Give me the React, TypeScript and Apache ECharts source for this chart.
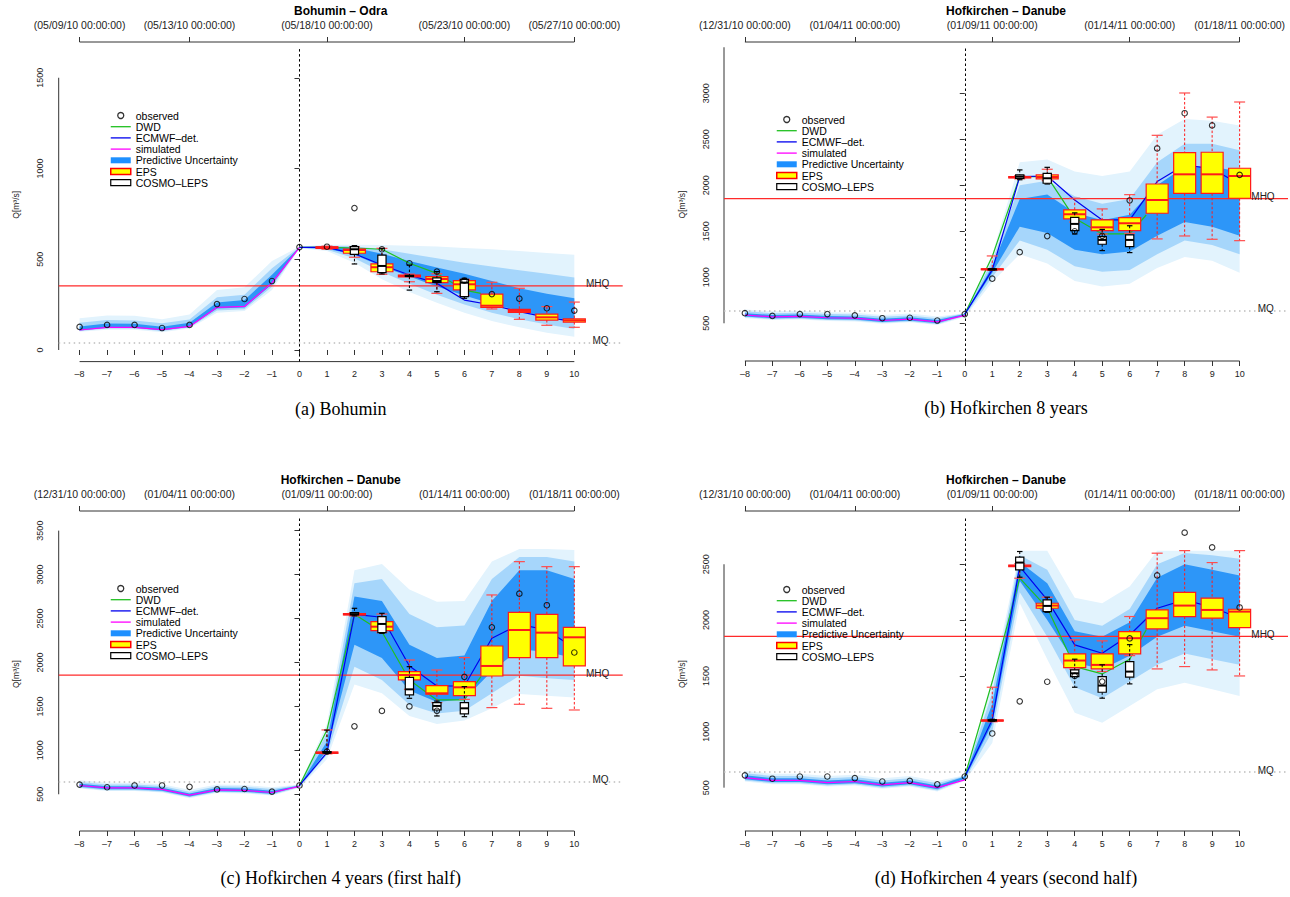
import { useEffect, useRef } from 'react';
import * as echarts from 'echarts';

// ---------------- shared axis data ----------------
const X_MIN = -8.76;
const X_MAX = 11.76;
const X_TICKS = [-8, -7, -6, -5, -4, -3, -2, -1, 0, 1, 2, 3, 4, 5, 6, 7, 8, 9, 10];
const DAYS_ALL = X_TICKS;
const DAYS_PRE = [-8, -7, -6, -5, -4, -3, -2, -1, 0];
const DAYS_FC = [0, 1, 2, 3, 4, 5, 6, 7, 8, 9, 10];
const DAYS_DWD = [0, 1, 2, 3, 4, 5, 6, 6.6];
const DAYS_BOX = [1, 2, 3, 4, 5, 6, 7, 8, 9, 10];
const TOP_TICKS = [-8, -4, 1, 6, 10];
const TOP_LABELS_BOHUMIN = ['(05/09/10 00:00:00)', '(05/13/10 00:00:00)', '(05/18/10 00:00:00)', '(05/23/10 00:00:00)', '(05/27/10 00:00:00)'];
const TOP_LABELS_HOFKIRCHEN = ['(12/31/10 00:00:00)', '(01/04/11 00:00:00)', '(01/09/11 00:00:00)', '(01/14/11 00:00:00)', '(01/18/11 00:00:00)'];
const Y_TICKS_A = [0, 500, 1000, 1500];
const Y_TICKS_BC = [500, 1000, 1500, 2000, 2500, 3000, 3500];
const Y_TICKS_D = [500, 1000, 1500, 2000, 2500];
const LEGEND_NAMES = ['observed', 'DWD', 'ECMWF–det.', 'simulated', 'Predictive Uncertainty', 'EPS', 'COSMO–LEPS'];

// ---------------- panel (a) Bohumin ----------------
const OBS_A = [127, 138, 138, 121, 138, 253, 281, 380, 567, 569, 782, 555, 478, 432, 382, 308, 283, 230, 217];
const SIM_A = [110, 125, 125, 112, 130, 235, 240, 370, 565];
const DWD_A = [565, 565, 562, 555, 478, 422, 330, 312];
const ECMWF_A = [565, 565, 530, 468, 413, 367, 275, 248, 211, 180, 156];
const EPS_A = [
  [555, 560, 565, 568, 572], [511, 533, 551, 556, 568], [417, 431, 456, 474, 560], [376, 403, 408, 412, 418],
  [312, 371, 391, 404, 420], [300, 331, 362, 382, 389], [226, 235, 244, 308, 373], [169, 207, 215, 224, 340],
  [136, 165, 180, 198, 239], [125, 154, 163, 171, 264],
];
const COSMO_DAYS_A = [2, 3, 4, 5, 6];
const COSMO_A = [[474, 527, 555, 569, 575], [419, 426, 463, 523, 560], [330, 405, 408, 411, 468], [321, 372, 380, 397, 432], [285, 294, 371, 389, 395]];
const PU_OUTER_LO_A = [100, 112, 112, 98, 118, 205, 215, 330, 560, 545, 480, 390, 320, 260, 205, 160, 125, 95, 73];
const PU_OUTER_HI_A = [175, 190, 188, 170, 195, 330, 345, 490, 570, 580, 580, 578, 575, 570, 562, 555, 545, 535, 525];
const PU_MID_LO_A = [104, 118, 118, 104, 124, 218, 225, 348, 562, 552, 505, 430, 365, 305, 250, 205, 170, 140, 115];
const PU_MID_HI_A = [150, 165, 163, 148, 168, 290, 305, 450, 568, 575, 572, 555, 530, 505, 480, 460, 440, 420, 400];
const PU_INNER_LO_A = [108, 122, 122, 108, 128, 228, 234, 362, 564, 558, 525, 460, 405, 350, 300, 255, 215, 185, 160];
const PU_INNER_HI_A = [130, 146, 144, 128, 150, 262, 275, 415, 566, 570, 563, 530, 490, 455, 420, 380, 340, 310, 285];
const MHQ_A = 353;
const MQ_A = 40;

// ---------------- Hofkirchen (shared observations) ----------------
const OBS_H = [610, 580, 600, 600, 585, 555, 560, 530, 600, 985, 1273, 1448, 1500, 1450, 1836, 2400, 2783, 2651, 2113];
const MHQ_H = 1855;
const MQ_H = 640;

// ---------------- panel (b) Hofkirchen 8 years ----------------
const SIM_B = [590, 570, 575, 560, 555, 530, 545, 515, 585];
const DWD_B = [600, 1225, 2094, 2094, 1641, 1471, 1471, 1677];
const ECMWF_B = [600, 1080, 2094, 2101, 1840, 1623, 1623, 2040, 2220, 2180, 2010];
const EPS_B = [
  [1075, 1082, 1087, 1092, 1232], [2070, 2080, 2088, 2095, 2105], [2050, 2069, 2090, 2112, 2174], [1600, 1634, 1685, 1732, 1859],
  [1470, 1507, 1543, 1623, 1743], [1478, 1507, 1587, 1648, 1898], [1417, 1696, 1840, 2014, 2543], [1449, 1913, 2119, 2355, 3003],
  [1413, 1913, 2119, 2359, 2741], [1398, 1859, 2101, 2185, 2905],
];
const COSMO_DAYS_B = [1, 2, 3, 4, 5, 6];
const COSMO_B = [[1080, 1083, 1087, 1090, 1095], [2060, 2076, 2094, 2112, 2167], [2014, 2022, 2076, 2130, 2195], [1471, 1507, 1580, 1652, 1700], [1290, 1359, 1406, 1442, 1520], [1268, 1333, 1406, 1460, 1560]];
const PU_OUTER_LO_B = [555, 535, 540, 525, 520, 495, 510, 480, 565, 950, 1250, 1150, 960, 900, 930, 1100, 1220, 1180, 1050];
const PU_OUTER_HI_B = [650, 630, 635, 620, 615, 590, 605, 575, 610, 1250, 2250, 2280, 2150, 2100, 2150, 2550, 2720, 2700, 2650];
const PU_MID_LO_B = [565, 545, 550, 535, 530, 505, 520, 490, 580, 1000, 1400, 1300, 1120, 1060, 1080, 1250, 1400, 1350, 1250];
const PU_MID_HI_B = [630, 610, 615, 600, 595, 570, 585, 555, 605, 1180, 2000, 2050, 1880, 1800, 1850, 2250, 2450, 2450, 2380];
const PU_INNER_LO_B = [575, 555, 560, 545, 540, 515, 530, 500, 590, 1050, 1550, 1480, 1300, 1250, 1280, 1450, 1600, 1550, 1450];
const PU_INNER_HI_B = [610, 590, 595, 580, 575, 550, 565, 535, 600, 1120, 1850, 1900, 1700, 1620, 1680, 2000, 2200, 2200, 2150];

// ---------------- panel (c) Hofkirchen 4 years (first half) ----------------
const SIM_C = [600, 572, 572, 555, 490, 550, 545, 520, 590];
const DWD_C = [600, 1232, 2548, 2350, 1800, 1573, 1573, 1839];
const ECMWF_C = [600, 975, 2548, 2514, 1960, 1732, 1732, 2275, 2434, 2369, 2161];
const EPS_C = [
  [960, 966, 974, 980, 1232], [2530, 2540, 2548, 2556, 2565], [2340, 2362, 2407, 2464, 2551], [1694, 1801, 1857, 1895, 2028],
  [1543, 1638, 1649, 1736, 1914], [1580, 1622, 1717, 1782, 2055], [1486, 1846, 1960, 2187, 2768], [1524, 2055, 2369, 2570, 3147],
  [1478, 2055, 2339, 2548, 3090], [1459, 1960, 2286, 2400, 3090],
];
const COSMO_DAYS_C = [1, 2, 3, 4, 5, 6];
const COSMO_C = [[965, 970, 975, 985, 1230], [2530, 2540, 2550, 2567, 2616], [2331, 2339, 2438, 2521, 2559], [1592, 1630, 1694, 1831, 1952], [1391, 1459, 1505, 1543, 1560], [1383, 1414, 1478, 1543, 1725]];
const PU_OUTER_LO_C = [565, 537, 537, 520, 455, 515, 510, 485, 570, 900, 1750, 1650, 1390, 1300, 1340, 1480, 1640, 1620, 1600];
const PU_OUTER_HI_C = [660, 632, 632, 615, 550, 610, 605, 580, 610, 1300, 3050, 3120, 2830, 2690, 2700, 3150, 3290, 3290, 3280];
const PU_MID_LO_C = [575, 547, 547, 530, 465, 525, 520, 495, 580, 950, 1950, 1800, 1520, 1420, 1450, 1650, 1850, 1820, 1800];
const PU_MID_HI_C = [640, 612, 612, 595, 530, 590, 585, 560, 605, 1200, 2900, 2950, 2550, 2400, 2420, 2950, 3200, 3200, 3150];
const PU_INNER_LO_C = [585, 557, 557, 540, 475, 535, 530, 505, 590, 1000, 2200, 2050, 1680, 1550, 1580, 1900, 2150, 2120, 2050];
const PU_INNER_HI_C = [620, 592, 592, 575, 510, 570, 565, 540, 600, 1100, 2750, 2700, 2200, 2050, 2080, 2700, 3050, 3050, 2950];

// ---------------- panel (d) Hofkirchen 4 years (second half) ----------------
const SIM_D = [590, 565, 565, 545, 555, 525, 545, 500, 570];
const DWD_D = [600, 1450, 2375, 2110, 1584, 1518, 1650, 1912];
const ECMWF_D = [600, 1107, 2479, 2181, 1778, 1703, 1867, 2106, 2181, 2115, 2017];
const EPS_D = [
  [1090, 1096, 1101, 1106, 1399], [2375, 2478, 2485, 2492, 2505], [2090, 2106, 2130, 2151, 2205], [1560, 1575, 1638, 1697, 1823],
  [1540, 1563, 1599, 1697, 1814], [1682, 1697, 1838, 1897, 2032], [1563, 1921, 2017, 2091, 2599], [1584, 2032, 2130, 2249, 2622],
  [1554, 2017, 2091, 2196, 2515], [1500, 1933, 2076, 2097, 2622],
];
const COSMO_DAYS_D = [1, 2, 3, 4, 5, 6];
const COSMO_D = [[1095, 1098, 1103, 1108, 1112], [2384, 2449, 2515, 2563, 2614], [2070, 2076, 2127, 2181, 2205], [1399, 1494, 1524, 1554, 1650], [1301, 1354, 1414, 1494, 1600], [1429, 1489, 1539, 1629, 1780]];
const PU_OUTER_LO_D = [555, 530, 530, 510, 520, 490, 510, 465, 560, 900, 2150, 1650, 1170, 1080, 1230, 1380, 1440, 1380, 1320];
const PU_OUTER_HI_D = [650, 625, 625, 605, 615, 585, 605, 560, 610, 1450, 2620, 2620, 2200, 2150, 2300, 2620, 2620, 2620, 2620];
const PU_MID_LO_D = [565, 540, 540, 520, 530, 500, 520, 475, 570, 1000, 2250, 1850, 1400, 1300, 1450, 1600, 1700, 1650, 1600];
const PU_MID_HI_D = [630, 605, 605, 585, 595, 565, 585, 540, 605, 1350, 2580, 2450, 2000, 1950, 2100, 2500, 2600, 2580, 2550];
const PU_INNER_LO_D = [575, 550, 550, 530, 540, 510, 530, 485, 580, 1070, 2350, 2000, 1620, 1560, 1680, 1850, 1950, 1900, 1850];
const PU_INNER_HI_D = [610, 585, 585, 565, 575, 545, 565, 520, 600, 1250, 2520, 2330, 1900, 1850, 1980, 2380, 2500, 2450, 2400];

// ---------------- styling / layout ----------------
const FONT = 'Liberation Sans, Arial, Helvetica, sans-serif';
const SERIF = 'Liberation Serif, Times New Roman, serif';
const BAND_COLORS = ['#e2f3fd', '#a6d6fb', '#2d96f8'];
const TOP_OFFSET = 6;
const COLOR_DWD = '#20c020';
const COLOR_ECMWF = '#0000ee';
const COLOR_SIM = '#ff00ff';
const COLOR_MHQ = '#ff2a2a';
const LINE_ICON = 'path://M0,0H20V1.3H0Z';

const PANELS = [
  {
    title: 'Bohumin – Odra', caption: '(a) Bohumin', topLabels: TOP_LABELS_BOHUMIN,
    grid: { left: 58.7, top: 48, width: 564, height: 313.6 }, yMin: -64, yMax: 1664, yTicks: Y_TICKS_A,
    legend: { left: 110, top: 110 },
    obs: OBS_A, sim: SIM_A, dwd: DWD_A, ecmwf: ECMWF_A, eps: EPS_A, cosmoDays: COSMO_DAYS_A, cosmo: COSMO_A,
    bands: [[PU_OUTER_LO_A, PU_OUTER_HI_A], [PU_MID_LO_A, PU_MID_HI_A], [PU_INNER_LO_A, PU_INNER_HI_A]],
    mhq: MHQ_A, mq: MQ_A,
  },
  {
    title: 'Hofkirchen – Danube', caption: '(b) Hofkirchen 8 years', topLabels: TOP_LABELS_HOFKIRCHEN,
    grid: { left: 724, top: 48, width: 564, height: 313 }, yMin: 90, yMax: 3492, yTicks: Y_TICKS_BC,
    legend: { left: 776, top: 114 },
    obs: OBS_H, sim: SIM_B, dwd: DWD_B, ecmwf: ECMWF_B, eps: EPS_B, cosmoDays: COSMO_DAYS_B, cosmo: COSMO_B,
    bands: [[PU_OUTER_LO_B, PU_OUTER_HI_B], [PU_MID_LO_B, PU_MID_HI_B], [PU_INNER_LO_B, PU_INNER_HI_B]],
    mhq: MHQ_H, mq: MQ_H,
  },
  {
    title: 'Hofkirchen – Danube', caption: '(c) Hofkirchen 4 years (first half)', topLabels: TOP_LABELS_HOFKIRCHEN,
    grid: { left: 58.7, top: 517, width: 564, height: 314 }, yMin: 82, yMax: 3655, yTicks: Y_TICKS_BC,
    legend: { left: 110, top: 583 },
    obs: OBS_H, sim: SIM_C, dwd: DWD_C, ecmwf: ECMWF_C, eps: EPS_C, cosmoDays: COSMO_DAYS_C, cosmo: COSMO_C,
    bands: [[PU_OUTER_LO_C, PU_OUTER_HI_C], [PU_MID_LO_C, PU_MID_HI_C], [PU_INNER_LO_C, PU_INNER_HI_C]],
    mhq: MHQ_H, mq: MQ_H,
  },
  {
    title: 'Hofkirchen – Danube', caption: '(d) Hofkirchen 4 years (second half)', topLabels: TOP_LABELS_HOFKIRCHEN,
    grid: { left: 724, top: 517, width: 564, height: 314 }, yMin: 112, yMax: 2923, yTicks: Y_TICKS_D,
    legend: { left: 776, top: 584 },
    obs: OBS_H, sim: SIM_D, dwd: DWD_D, ecmwf: ECMWF_D, eps: EPS_D, cosmoDays: COSMO_DAYS_D, cosmo: COSMO_D,
    bands: [[PU_OUTER_LO_D, PU_OUTER_HI_D], [PU_MID_LO_D, PU_MID_HI_D], [PU_INNER_LO_D, PU_INNER_HI_D]],
    mhq: MHQ_H, mq: MQ_H,
  },
];

const fmtTick = (v: number) => (v < 0 ? '–' + Math.abs(v) : String(v));

function boxRenderer(kind: 'eps' | 'cosmo') {
  const boxW = kind === 'eps' ? 0.8 : 0.3;
  const capW = kind === 'eps' ? 0.4 : 0.2;
  const stroke = kind === 'eps' ? '#ff1a1a' : '#000000';
  const cap = kind === 'eps' ? '#ff4d4d' : '#000000';
  const fill = kind === 'eps' ? '#ffff00' : '#ffffff';
  return (params: any, api: any) => {
    const x = api.value(0);
    const pMin = api.coord([x, api.value(1)]);
    const pQ1 = api.coord([x, api.value(2)]);
    const pMd = api.coord([x, api.value(3)]);
    const pQ3 = api.coord([x, api.value(4)]);
    const pMax = api.coord([x, api.value(5)]);
    const w = api.size([boxW, 0])[0];
    const cw = api.size([capW, 0])[0];
    const cx = pMd[0];
    const dash = { stroke, lineWidth: 1, lineDash: [2.5, 2] };
    return {
      type: 'group',
      children: [
        { type: 'line', shape: { x1: cx, y1: pMax[1], x2: cx, y2: pQ3[1] }, style: dash },
        { type: 'line', shape: { x1: cx, y1: pQ1[1], x2: cx, y2: pMin[1] }, style: dash },
        { type: 'line', shape: { x1: cx - cw / 2, y1: pMax[1], x2: cx + cw / 2, y2: pMax[1] }, style: { stroke: cap, lineWidth: 1.2 } },
        { type: 'line', shape: { x1: cx - cw / 2, y1: pMin[1], x2: cx + cw / 2, y2: pMin[1] }, style: { stroke: cap, lineWidth: 1.2 } },
        { type: 'rect', shape: { x: cx - w / 2, y: pQ3[1], width: w, height: Math.max(pQ1[1] - pQ3[1], 0.8) }, style: { fill, stroke, lineWidth: 1.2 } },
        { type: 'line', shape: { x1: cx - w / 2, y1: pMd[1], x2: cx + w / 2, y2: pMd[1] }, style: { stroke, lineWidth: 2 } },
      ],
    };
  };
}

function bandRenderer(lo: number[], hi: number[], color: string) {
  return (params: any, api: any) => {
    if (params.dataIndex !== 0) return null;
    const up = DAYS_ALL.map((d, k) => api.coord([d, hi[k]]));
    const dn = DAYS_ALL.map((d, k) => api.coord([d, lo[k]])).reverse();
    return { type: 'polygon', shape: { points: up.concat(dn) }, style: { fill: color } };
  };
}

function refLine(data: any[], lineStyle: any) {
  return { silent: true, symbol: ['none', 'none'], label: { show: false }, animation: false, lineStyle, data };
}

function buildOption() {
  const series: any[] = [];
  const xAxis: any[] = [];
  const yAxis: any[] = [];
  const legend: any[] = [];
  PANELS.forEach((p, i) => {
    const ax = { xAxisIndex: i, yAxisIndex: i };
    p.bands.forEach(([lo, hi], b) => {
      series.push({
        type: 'custom', name: 'Predictive Uncertainty', ...ax, z: 1, silent: true,
        data: DAYS_ALL.map((d, k) => [d, lo[k], hi[k]]), encode: { x: 0, y: [1, 2] },
        itemStyle: { color: '#1e90ff' }, renderItem: bandRenderer(lo, hi, BAND_COLORS[b]),
      });
    });
    // MHQ reference level (horizontal across the plotting region)
    series.push({
      type: 'line', name: 'MHQ', ...ax, z: 2, symbol: 'none', silent: true,
      data: [[X_MIN, p.mhq], [X_MAX, p.mhq]],
      lineStyle: { color: COLOR_MHQ, width: 1.2, type: 'solid' }, itemStyle: { color: COLOR_MHQ },
    });
    series.push({
      type: 'line', name: 'simulated', ...ax, z: 2, symbol: 'none', silent: true,
      data: DAYS_PRE.map((d, k) => [d, p.sim[k]]), lineStyle: { color: COLOR_SIM, width: 1.2 }, itemStyle: { color: COLOR_SIM },
      markLine: refLine([{ xAxis: 0 }], { color: '#000000', type: [2.5, 2.5], width: 1 }),
    });
    series.push({
      type: 'line', name: 'DWD', ...ax, z: 2, symbol: 'none', silent: true,
      data: DAYS_DWD.map((d, k) => [d, p.dwd[k]]), lineStyle: { color: COLOR_DWD, width: 1.2 }, itemStyle: { color: COLOR_DWD },
    });
    series.push({
      type: 'line', name: 'ECMWF–det.', ...ax, z: 2, symbol: 'none', silent: true,
      data: DAYS_FC.map((d, k) => [d, p.ecmwf[k]]), lineStyle: { color: COLOR_ECMWF, width: 1.2 }, itemStyle: { color: COLOR_ECMWF },
      markLine: refLine([{ yAxis: p.mq }], { color: '#bdbdbd', type: [1.5, 3.5], width: 1.6 }),
      markPoint: {
        silent: true, symbol: 'circle', symbolSize: 1, itemStyle: { color: 'rgba(0,0,0,0)' },
        label: { show: true, position: 'inside', formatter: '{b}', color: '#222', fontSize: 10, fontFamily: FONT, offset: [0, -2] },
        data: [{ name: 'MHQ', coord: [10.85, p.mhq] }, { name: 'MQ', coord: [10.95, p.mq] }],
      },
    });
    series.push({
      type: 'custom', name: 'EPS', ...ax, z: 3, silent: true,
      data: DAYS_BOX.map((d, k) => [d, ...p.eps[k]]), encode: { x: 0, y: [1, 2, 3, 4, 5] },
      itemStyle: { color: '#ffff00' }, renderItem: boxRenderer('eps'),
    });
    series.push({
      type: 'custom', name: 'COSMO–LEPS', ...ax, z: 4, silent: true,
      data: p.cosmoDays.map((d, k) => [d, ...p.cosmo[k]]), encode: { x: 0, y: [1, 2, 3, 4, 5] },
      itemStyle: { color: '#ffffff' }, renderItem: boxRenderer('cosmo'),
    });
    series.push({
      type: 'scatter', name: 'observed', ...ax, z: 5, silent: true, symbol: 'circle', symbolSize: 5.5,
      data: DAYS_ALL.map((d, k) => [d, p.obs[k]]),
      itemStyle: { color: 'rgba(0,0,0,0)', borderColor: '#000', borderWidth: 1.1 },
    });

    xAxis.push({
      type: 'value', gridIndex: i, min: X_MIN, max: X_MAX, position: 'bottom',
      axisLine: { show: false }, splitLine: { show: false },
      axisTick: { show: true, customValues: X_TICKS, length: 5, lineStyle: { color: '#333' } },
      axisLabel: { customValues: X_TICKS, formatter: fmtTick, fontSize: 9, fontFamily: FONT, color: '#222', margin: 8 },
    });
    yAxis.push({
      type: 'value', gridIndex: i, min: p.yMin, max: p.yMax,
      axisLine: { show: false }, splitLine: { show: false },
      axisTick: { show: true, customValues: p.yTicks, length: 5, lineStyle: { color: '#333' } },
      axisLabel: { customValues: p.yTicks, formatter: (v: number) => String(v), rotate: 90, fontSize: 9, fontFamily: FONT, color: '#222', margin: 14 },
      name: 'Q[m³/s]', nameLocation: 'middle', nameGap: 38,
      nameTextStyle: { fontSize: 8.5, fontFamily: FONT, color: '#222' },
    });
    legend.push({
      left: p.legend.left, top: p.legend.top, orient: 'vertical', padding: 0, itemGap: 0.2,
      itemWidth: 20, itemHeight: 6, selectedMode: false,
      textStyle: { fontSize: 10.5, lineHeight: 10, fontFamily: FONT, color: '#000' },
      data: [
        { name: LEGEND_NAMES[0], icon: 'circle', itemStyle: { color: 'rgba(0,0,0,0)', borderColor: '#000', borderWidth: 1.3 } },
        { name: LEGEND_NAMES[1], icon: LINE_ICON, itemStyle: { color: COLOR_DWD, borderWidth: 0 } },
        { name: LEGEND_NAMES[2], icon: LINE_ICON, itemStyle: { color: COLOR_ECMWF, borderWidth: 0 } },
        { name: LEGEND_NAMES[3], icon: LINE_ICON, itemStyle: { color: COLOR_SIM, borderWidth: 0 } },
        { name: LEGEND_NAMES[4], icon: 'rect', itemStyle: { color: '#1e90ff', borderWidth: 0 } },
        { name: LEGEND_NAMES[5], icon: 'rect', itemStyle: { color: '#ffff00', borderColor: '#ff0000', borderWidth: 1.5 } },
        { name: LEGEND_NAMES[6], icon: 'rect', itemStyle: { color: '#ffffff', borderColor: '#000', borderWidth: 1.2 } },
      ],
    });
  });
  PANELS.forEach((p, i) => {
    xAxis.push({
      type: 'value', gridIndex: i, min: X_MIN, max: X_MAX, position: 'top', offset: TOP_OFFSET,
      axisLine: { show: false }, splitLine: { show: false },
      axisTick: { show: true, customValues: TOP_TICKS, length: 5, lineStyle: { color: '#333' } },
      axisLabel: {
        customValues: TOP_TICKS, fontSize: 10.5, fontFamily: FONT, color: '#222', margin: 12,
        formatter: (v: number) => p.topLabels[TOP_TICKS.indexOf(v)] ?? '',
      },
    });
  });
  return {
    animation: false,
    backgroundColor: '#ffffff',
    grid: PANELS.map((p) => ({ ...p.grid, containLabel: false })),
    xAxis, yAxis, legend, series,
  };
}

export default function App() {
  const ref = useRef<HTMLDivElement>(null);
  useEffect(() => {
    if (!ref.current) return;
    const chart = echarts.init(ref.current, undefined, { renderer: 'svg' });
    chart.setOption(buildOption() as any);
    const g: any[] = [];
    PANELS.forEach((p, i) => {
      const c = (x: number, y: number) => chart.convertToPixel({ gridIndex: i } as any, [x, y]) as number[];
      const lineStyle = { stroke: '#333', lineWidth: 1 };
      const y0 = c(X_MIN, p.yTicks[0]);
      const y1 = c(X_MIN, p.yTicks[p.yTicks.length - 1]);
      g.push({ type: 'line', silent: true, shape: { x1: y0[0], y1: y0[1], x2: y1[0], y2: y1[1] }, style: lineStyle });
      const b0 = c(-8, p.yMin);
      const b1 = c(10, p.yMin);
      g.push({ type: 'line', silent: true, shape: { x1: b0[0], y1: b0[1], x2: b1[0], y2: b1[1] }, style: lineStyle });
      const t0 = c(-8, p.yMax);
      const t1 = c(10, p.yMax);
      const ty = t0[1] - TOP_OFFSET;
      g.push({ type: 'line', silent: true, shape: { x1: t0[0], y1: ty, x2: t1[0], y2: ty }, style: lineStyle });
      const mid = c((X_MIN + X_MAX) / 2, p.yMax);
      g.push({
        type: 'text', silent: true, x: mid[0], y: ty - 31,
        style: { text: p.title, fontSize: 12, fontWeight: 'bold', fontFamily: FONT, fill: '#000', align: 'center', verticalAlign: 'middle' },
      });
      g.push({
        type: 'text', silent: true, x: mid[0], y: b0[1] + 47,
        style: { text: p.caption, fontSize: 18, fontFamily: SERIF, fill: '#000', align: 'center', verticalAlign: 'middle' },
      });
    });
    chart.setOption({ graphic: g } as any);
    return () => chart.dispose();
  }, []);
  return (
    <div
      ref={ref}
      style={{ position: 'absolute', left: 0, top: 0, width: 1290, height: 897, background: '#fff' }}
    />
  );
}
